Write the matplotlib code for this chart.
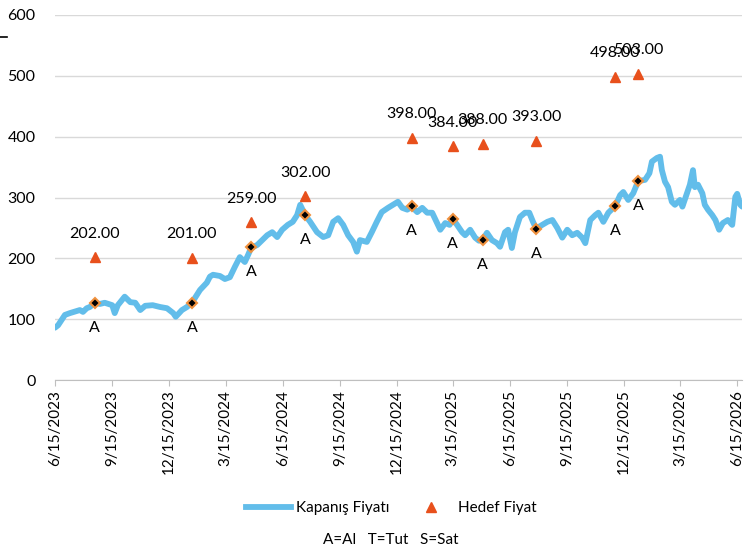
import pandas as pd
import matplotlib.pyplot as plt
import matplotlib.dates as mdates
from matplotlib.lines import Line2D

plt.rcParams['font.family'] = ['Lato', 'DejaVu Sans']

# closing price
price_dates = [
    "2023-06-15", "2023-06-20", "2023-07-01", "2023-07-09", "2023-07-25", "2023-07-30",
    "2023-08-05", "2023-08-10", "2023-08-18", "2023-08-26", "2023-09-03", "2023-09-15",
    "2023-09-19", "2023-09-24", "2023-10-05", "2023-10-14", "2023-10-22", "2023-10-30",
    "2023-11-07", "2023-11-19", "2023-12-01", "2023-12-12", "2023-12-22", "2023-12-26",
    "2024-01-05", "2024-01-13", "2024-01-21", "2024-02-03", "2024-02-14", "2024-02-19",
    "2024-02-24", "2024-03-06", "2024-03-14", "2024-03-22", "2024-03-30", "2024-04-07",
    "2024-04-15", "2024-04-20", "2024-04-25", "2024-05-05", "2024-05-13", "2024-05-21",
    "2024-05-29", "2024-06-06", "2024-06-14", "2024-06-23", "2024-07-01", "2024-07-08",
    "2024-07-13", "2024-07-21", "2024-07-29", "2024-08-09", "2024-08-19", "2024-08-27",
    "2024-09-04", "2024-09-12", "2024-09-20", "2024-09-28", "2024-10-06", "2024-10-12",
    "2024-10-17", "2024-10-28", "2024-11-05", "2024-11-13", "2024-11-21", "2024-12-01",
    "2024-12-09", "2024-12-17", "2024-12-24", "2025-01-01", "2025-01-08", "2025-01-17",
    "2025-01-25", "2025-02-02", "2025-02-10", "2025-02-18", "2025-02-23", "2025-03-03",
    "2025-03-10", "2025-03-15", "2025-03-22", "2025-03-30", "2025-04-04", "2025-04-12",
    "2025-04-20", "2025-04-26", "2025-05-02", "2025-05-09", "2025-05-17", "2025-05-25",
    "2025-05-30", "2025-06-07", "2025-06-12", "2025-06-18", "2025-06-23", "2025-07-01",
    "2025-07-09", "2025-07-16", "2025-07-22", "2025-07-27", "2025-08-06", "2025-08-14",
    "2025-08-22", "2025-08-30", "2025-09-07", "2025-09-15", "2025-09-23", "2025-10-01",
    "2025-10-09", "2025-10-14", "2025-10-22", "2025-10-30", "2025-11-04", "2025-11-12",
    "2025-11-20", "2025-12-01", "2025-12-09", "2025-12-14", "2025-12-22", "2025-12-30",
    "2026-01-07", "2026-01-18", "2026-01-25", "2026-01-29", "2026-02-06", "2026-02-11",
    "2026-02-14", "2026-02-19", "2026-02-24", "2026-03-02", "2026-03-07", "2026-03-15",
    "2026-03-19", "2026-03-27", "2026-03-31", "2026-04-05", "2026-04-08", "2026-04-13",
    "2026-04-20", "2026-04-24", "2026-04-29", "2026-05-06", "2026-05-11", "2026-05-17",
    "2026-05-23", "2026-05-31", "2026-06-07", "2026-06-12", "2026-06-15", "2026-06-20",
    "2026-06-23",
]
close_price = [
    86, 90, 107, 110, 115, 112,
    118, 120, 127, 125, 127, 123,
    110, 123, 137, 128, 127, 115,
    122, 123, 120, 118, 110, 104,
    115, 120, 127, 148, 160, 170,
    173, 171, 166, 169, 186, 202,
    194, 205, 217, 222, 230, 238,
    243, 235, 247, 255, 260, 271,
    288, 271, 260, 243, 235, 238,
    260, 266, 255, 238, 227, 211,
    230, 227, 243, 260, 276, 283,
    288, 293, 283, 280, 285, 276,
    283, 275, 275, 258, 247, 258,
    255, 265, 255, 243, 238, 247,
    234, 229, 230, 242, 230, 225,
    219, 243, 247, 217, 243, 268,
    275, 275, 260, 249, 255, 260,
    263, 250, 234, 247, 238, 242,
    234, 225, 263, 271, 275, 260,
    275, 286, 304, 309, 296, 307,
    327, 329, 340, 359, 365, 367,
    345, 326, 317, 293, 288, 296,
    285, 309, 321, 345, 317, 321,
    307, 288, 280, 271, 263, 247,
    258, 263, 255, 301, 306, 288,
    285,
]

# recommendations: target price and price on the day
rec_dates = ["2023-08-18", "2024-01-21", "2024-04-25", "2024-07-21", "2025-01-08",
             "2025-03-15", "2025-05-02", "2025-07-27", "2025-12-01", "2026-01-07"]
target_price = [202, 201, 259, 302, 398, 384, 388, 393, 498, 503]
rec_price = [127, 127, 218, 271, 286, 265, 230, 249, 286, 327]
rec_type = ["A"] * 10

tick_dates = ["2023-06-15", "2023-09-15", "2023-12-15", "2024-03-15", "2024-06-15",
              "2024-09-15", "2024-12-15", "2025-03-15", "2025-06-15", "2025-09-15",
              "2025-12-15", "2026-03-15", "2026-06-15"]

px = pd.to_datetime(price_dates)
rx = pd.to_datetime(rec_dates)
tx = pd.to_datetime(tick_dates)

fig = plt.figure(figsize=(7.55, 5.53), dpi=100)
ax = fig.add_axes([0.0728, 0.3128, 0.9102, 0.6601])

line_color = '#62BDEA'
tri_color = '#E8501C'

ax.plot(px, close_price, color=line_color, lw=4.2, solid_capstyle='round',
        solid_joinstyle='round', zorder=3)
ax.plot(rx, target_price, linestyle='none', marker='^', markersize=7,
        color=tri_color, zorder=4)
ax.plot(rx, rec_price, linestyle='none', marker='D', markersize=5.5,
        markerfacecolor='black', markeredgecolor='#F0923F', markeredgewidth=1.5, zorder=5)

for d, t, p, r in zip(rx, target_price, rec_price, rec_type):
    ax.annotate(f"{t:.2f}", (d, t), xytext=(0, 17), textcoords='offset points',
                ha='center', va='center', fontsize=11.5, color='black')
    ax.annotate(r, (d, p), xytext=(0, -18), textcoords='offset points',
                ha='center', va='center', fontsize=11.5, color='black')

ax.set_ylim(0, 600)
ax.set_yticks(range(0, 601, 100))
ax.set_xlim(pd.Timestamp("2023-06-15"), pd.Timestamp("2026-06-23"))
ax.set_xticks(tx)
ax.set_xticklabels([f"{d.month}/{d.day}/{d.year}" for d in tx], rotation=90, fontsize=11)
ax.tick_params(axis='y', length=0, labelsize=11.5, pad=14)
ax.tick_params(axis='x', length=4, color='#BFBFBF', pad=3)

ax.grid(axis='y', color='#D9D9D9', lw=1)
ax.set_axisbelow(True)
for s in ['top', 'right', 'left']:
    ax.spines[s].set_visible(False)
ax.spines['bottom'].set_color('#BFBFBF')

handles = [
    Line2D([], [], color=line_color, lw=4.2),
    Line2D([], [], linestyle='none', marker='^', markersize=7, color=tri_color),
]
fig.legend(handles, ['Kapanış Fiyatı', 'Hedef Fiyat'], loc='center',
           bbox_to_anchor=(0.518, 0.081), ncol=2, frameon=False, fontsize=11,
           handlelength=3, columnspacing=1.2, handletextpad=0.3)
fig.text(0.517, 0.024, "A=Al   T=Tut   S=Sat", ha='center', va='center', fontsize=11)

# small dash at top left
fig.add_artist(Line2D([0.0, 0.009], [0.933, 0.933], color='black', lw=1.2))

fig.savefig('out.png', dpi=100)
